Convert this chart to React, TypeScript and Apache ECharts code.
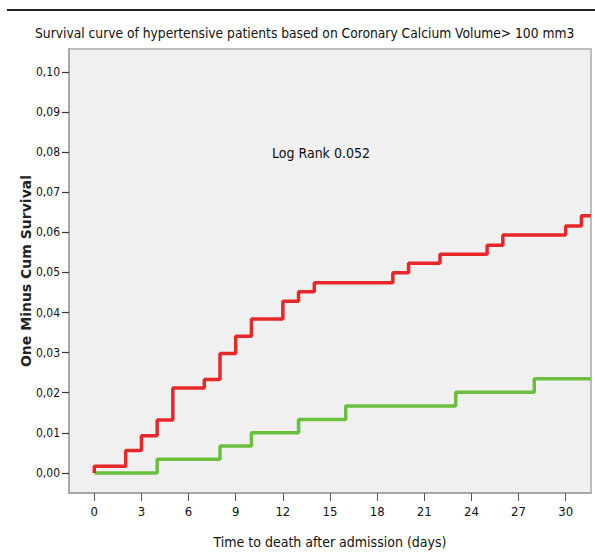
import React, { useEffect, useRef } from "react";
import * as echarts from "echarts";

const titleText = "Survival curve of hypertensive patients based on Coronary Calcium Volume> 100 mm3";
const annotationText = "Log Rank 0.052";
const xAxisName = "Time to death after admission (days)";
const yAxisName = "One Minus Cum Survival";

const xTicks = [0, 3, 6, 9, 12, 15, 18, 21, 24, 27, 30];
const yTicks = [0, 0.01, 0.02, 0.03, 0.04, 0.05, 0.06, 0.07, 0.08, 0.09, 0.1];

// Red group (step changes at these days)
const redTimes = [0, 0, 2, 3, 4, 5, 7, 8, 9, 10, 12, 13, 14, 19, 20, 22, 25, 26, 30, 31, 31.6];
const redValues = [0, 0.0017, 0.0056, 0.0093, 0.0132, 0.0212, 0.0233, 0.0298, 0.0341, 0.0384, 0.0428, 0.0452, 0.0474, 0.0499, 0.0523, 0.0545, 0.0568, 0.0593, 0.0616, 0.0641, 0.0641];

// Green group
const greenTimes = [0, 4, 8, 10, 13, 16, 23, 28, 31.6];
const greenValues = [0, 0.0034, 0.0067, 0.01, 0.0133, 0.0167, 0.0201, 0.0235, 0.0235];

const narrow = "'Liberation Sans Narrow', 'DejaVu Sans Condensed', 'Arial Narrow', sans-serif";

export default function App() {
  const ref = useRef<HTMLDivElement>(null);
  useEffect(() => {
    if (!ref.current) return;
    const chart = echarts.init(ref.current, null, { renderer: "svg" });
    const red = redTimes.map((t, i) => [t, redValues[i]]);
    const green = greenTimes.map((t, i) => [t, greenValues[i]]);
    chart.setOption({
      animation: false,
      backgroundColor: "#ffffff",
      title: {
        text: titleText,
        left: 35,
        top: 26,
        padding: 0,
        textStyle: { fontFamily: narrow, fontSize: 13.7, fontWeight: "normal", color: "#111" },
      },
      grid: {
        left: 69,
        top: 49,
        right: 4,
        bottom: 65,
        show: true,
        backgroundColor: "#f0f0f0",
        borderColor: "#a9a9a9",
        borderWidth: 1.5,
      },
      xAxis: {
        type: "value",
        min: -1.61,
        max: 31.61,
        splitLine: { show: false },
        axisLine: { show: true, onZero: false, lineStyle: { color: "#a0a0a0", width: 1.5 } },
        axisTick: {
          show: true,
          customValues: xTicks,
          length: 8,
          lineStyle: { color: "#555" },
        },
        axisLabel: {
          customValues: xTicks,
          fontFamily: narrow,
          fontSize: 13,
          color: "#111",
          margin: 12,
        },
        name: xAxisName,
        nameLocation: "middle",
        nameGap: 42,
        nameMoveOverlap: false,
        nameTextStyle: { fontFamily: narrow, fontSize: 14, color: "#111" },
      },
      yAxis: {
        type: "value",
        min: -0.005,
        max: 0.1057,
        splitLine: { show: false },
        axisLine: { show: true, onZero: false, lineStyle: { color: "#a0a0a0", width: 1.5 } },
        axisTick: {
          show: true,
          customValues: yTicks,
          length: 7,
          lineStyle: { color: "#333", width: 1.2 },
        },
        axisLabel: {
          customValues: yTicks,
          formatter: (v: number) => v.toFixed(2).replace(".", ","),
          fontFamily: narrow,
          fontSize: 12,
          color: "#111",
          margin: 9,
        },
        name: yAxisName,
        nameLocation: "middle",
        nameGap: 36,
        nameMoveOverlap: false,
        nameRotate: 90,
        nameTextStyle: { fontFamily: "'DejaVu Sans', sans-serif", fontSize: 14, fontWeight: "bold", color: "#222" },
      },
      graphic: [
        {
          type: "line",
          shape: { x1: 7, y1: 10, x2: 595, y2: 10 },
          style: { stroke: "#222", lineWidth: 2 },
        },
        {
          type: "text",
          left: 272,
          top: 146,
          style: { text: annotationText, font: `14px ${narrow}`, fill: "#111" },
          z: 100,
        },
      ],
      series: [
        {
          type: "line",
          step: "end",
          data: red,
          showSymbol: false,
          lineStyle: { color: "#e8272b", width: 3.5 },
          z: 3,
        },
        {
          type: "line",
          step: "end",
          data: green,
          showSymbol: false,
          lineStyle: { color: "#6abf3d", width: 3.5 },
          z: 2,
        },
      ],
    });
    return () => chart.dispose();
  }, []);
  return <div ref={ref} style={{ position: "absolute", left: 0, top: 0, width: 595, height: 558 }} />;
}
